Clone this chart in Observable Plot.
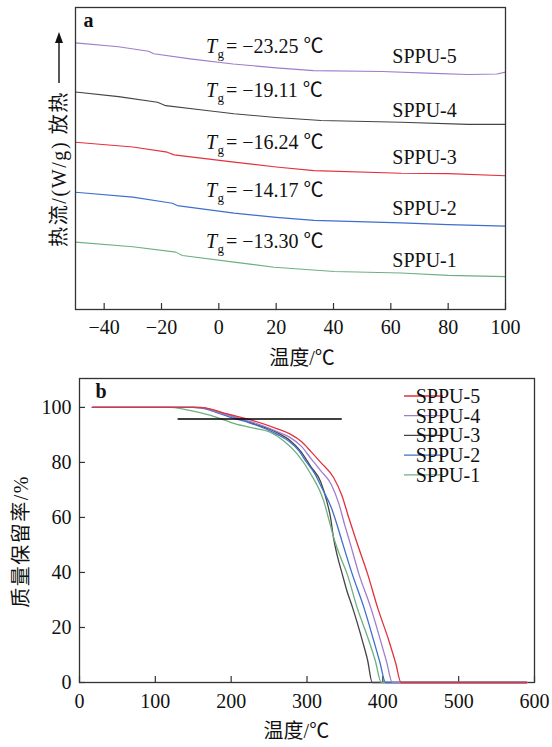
<!DOCTYPE html>
<html><head><meta charset="utf-8">
<script src="https://cdn.jsdelivr.net/npm/d3@7"></script>
<script src="https://cdn.jsdelivr.net/npm/@observablehq/plot@0.6"></script>
<style>
body{margin:0;background:#fff;}
#wrap{position:relative;width:552px;height:747px;}
#wrap svg{position:absolute;left:0;overflow:visible;}
</style></head><body><div id="wrap"></div>
<script>
// ---------- shared ----------
const series = ["SPPU-1", "SPPU-2", "SPPU-3", "SPPU-4", "SPPU-5"];
const dscColors = ["#6db07f", "#3d6fcc", "#e2323c", "#444444", "#a27ccb"];
const tgaColors = ["#6db07f", "#3d6fcc", "#444444", "#a27ccb", "#e2323c"];

// ---------- panel a: DSC (heat flow, arbitrary offset units) ----------
const dscXTicks = [-40, -20, 0, 20, 40, 60, 80, 100];
const dsc1 = [[-50,2.23],[-30,2.08],[-15,1.90],[-12.7,1.79],[5.3,1.57],[19.3,1.40],[40.3,1.26],[63.6,1.21],[79.9,1.13],[100,1.09]];
const dsc2 = [[-50,3.88],[-30,3.72],[-16.2,3.52],[-14.5,3.44],[5.3,3.19],[20,3.05],[33.2,2.95],[63.6,2.87],[80,2.81],[100,2.76]];
const dsc3 = [[-50,5.54],[-30,5.38],[-18,5.21],[-15.6,5.12],[5.3,4.88],[20,4.72],[33.2,4.60],[63.6,4.51],[80,4.50],[100,4.43]];
const dsc4 = [[-50,7.20],[-35,7.05],[-21.4,6.86],[-18.5,6.75],[-5,6.60],[5.3,6.48],[20,6.36],[35.7,6.26],[63.6,6.20],[87,6.13],[100,6.13]];
const dsc5 = [[-50,8.83],[-35,8.70],[-24.5,8.55],[-22.7,8.47],[-10,8.30],[5,8.13],[20,8.00],[33,7.91],[57,7.88],[75,7.82],[87,7.78],[97,7.80],[100,7.86]];
const tgValues = ["−13.30", "−14.17", "−16.24", "−19.11", "−23.25"];
// annotation anchors (data units)
const tgLabelX = -4.5;
const tgLabelY = [2.05, 3.74, 5.33, 7.05, 8.48];
const nameLabelX = 60.5;
const nameLabelY = [1.42, 3.13, 4.83, 6.39, 8.15];
const yLabelA = "热流/(W/g) 放热";
const xLabel = "温度/℃";

// ---------- panel b: TGA ----------
const tgaXTicks = [0, 100, 200, 300, 400, 500, 600];
const tgaYTicks = [0, 20, 40, 60, 80, 100];
const tga1 = [[17,100],[120,100],[137,99.4],[160,98],[181,96.4],[200,94.5],[225,92.7],[252,90.9],[269,87.9],[287,83.1],[305,75.8],[322,66],[330,58],[336,52],[345,45],[353,39.4],[366,27.3],[381.6,15.2],[390,8],[398,0],[590,0]];
const tga2 = [[17,100],[150,100],[160,99.8],[180,98.2],[203,96.1],[225,94.3],[260,90.3],[277,87.5],[290,84],[298,80.6],[310,76],[320,70.5],[332,63.6],[340,57],[346,51.5],[359.7,39.4],[375,27.3],[388,15.2],[396,7.5],[403.7,0],[590,0]];
const tga3 = [[17,100],[160,100],[175,99],[203,96.6],[225,94.5],[260,90.9],[278,87.9],[291,84.3],[305,78.5],[318,73],[326,66],[331,60],[335,52.5],[340,46],[346.5,39.4],[353,33],[360,27.3],[373,15.2],[380,8],[386,0],[590,0]];
const tga4 = [[17,100],[150,100],[164,99.8],[185,98],[205,96.5],[225,94.9],[260,91.3],[278,89],[292,86],[305,81.5],[318,77],[332,72],[342,65],[350,57],[356,51.5],[368.5,39.4],[384,27.3],[397,15.2],[405,7.5],[412.5,0],[590,0]];
const tga5 = [[17,100],[150,100],[165,99.8],[195,97.6],[221,95.8],[260,92.3],[278,90.3],[293,87.5],[305,84],[318,80],[335,74.5],[346,68],[355,60],[365,51.5],[380,39.4],[393,27.3],[408,15.2],[417,7],[424,0],[590,0]];
const refLossLevel = 95.8;
const refLossRange = [130, 346.5];
const legendOrder = ["SPPU-5", "SPPU-4", "SPPU-3", "SPPU-2", "SPPU-1"];
const tgaDrawOrder = ["SPPU-3", "SPPU-1", "SPPU-2", "SPPU-4", "SPPU-5"];
const yLabelB = "质量保留率/%";

// ---------- build tables ----------
const dscSets = [dsc1, dsc2, dsc3, dsc4, dsc5];
const tgaSets = [tga1, tga2, tga3, tga4, tga5];
const dscRows = dscSets.flatMap((arr, i) => arr.map(([t, v]) => ({s: series[i], t, v})));
const tgaRows = tgaDrawOrder.flatMap(name => tgaSets[series.indexOf(name)].map(([t, w]) => ({s: name, t, w})));
const tgRows = series.map((s, i) => ({s, tg: tgValues[i], y: tgLabelY[i]}));
const nameRows = series.map((s, i) => ({s, y: nameLabelY[i]}));

const fmt = d => d < 0 ? "−" + (-d) : String(d);
const FONT = '"Liberation Serif", "Times New Roman", "Noto Sans CJK SC", serif';
const INK = "#333";

// ---------- panel a ----------
const A = {w: 552, h: 370, mt: 7, mb: 61, ml: 75, mr: 47};
const aFrameH = A.h - A.mt - A.mb;
const plotA = Plot.plot({
  width: A.w, height: A.h,
  marginTop: A.mt, marginBottom: A.mb, marginLeft: A.ml, marginRight: A.mr,
  style: {fontFamily: FONT, fontSize: "20px", color: "#111", background: "transparent", overflow: "visible"},
  x: {domain: [-50, 100], axis: null},
  y: {domain: [0, 10], axis: null},
  color: {domain: series, range: dscColors},
  marks: [
    Plot.line(dscRows, {x: "t", y: "v", z: "s", stroke: "s", strokeWidth: 1.1}),
    Plot.ruleX(dscXTicks, {x: d => d, insetTop: aFrameH - 6, stroke: INK, strokeWidth: 1.2}),
    Plot.axisX({ticks: dscXTicks, tickSize: 0, tickPadding: 10, tickFormat: fmt, label: null, fill: "#111"}),
    Plot.frame({stroke: INK, strokeWidth: 1.3}),
    Plot.text(tgRows, {x: () => tgLabelX, y: "y", text: () => "T", fontStyle: "italic", textAnchor: "start", lineAnchor: "bottom", fill: "#111"}),
    Plot.text(tgRows, {x: () => tgLabelX, y: "y", text: () => "g", fontSize: 13, dx: 11.5, dy: 5, textAnchor: "start", lineAnchor: "bottom", fill: "#111"}),
    Plot.text(tgRows, {x: () => tgLabelX, y: "y", text: d => "= " + d.tg + " ℃", dx: 20, textAnchor: "start", lineAnchor: "bottom", fill: "#111"}),
    Plot.text(nameRows, {x: () => nameLabelX, y: "y", text: "s", textAnchor: "start", lineAnchor: "bottom", fill: "#111"}),
    Plot.text(["a"], {frameAnchor: "top-left", text: d => d, dx: 8, dy: 19.7, lineAnchor: "bottom", textAnchor: "start", fontWeight: "bold", fill: "#111"}),
    Plot.text([xLabel], {frameAnchor: "bottom", text: d => d, dx: 11.5, dy: 49.5, lineAnchor: "middle", textAnchor: "middle", fill: "#111"}),
    Plot.text([yLabelA], {frameAnchor: "left", text: d => d, rotate: -90, dx: -16, dy: 10.5, lineAnchor: "middle", textAnchor: "middle", fill: "#111"})
  ]
});

// ---------- panel b ----------
const B = {w: 552, h: 377, mt: 8, mb: 65, ml: 79, mr: 18};
const bFrameH = B.h - B.mt - B.mb;
const bFrameW = B.w - B.ml - B.mr;
const plotB = Plot.plot({
  width: B.w, height: B.h,
  marginTop: B.mt, marginBottom: B.mb, marginLeft: B.ml, marginRight: B.mr,
  style: {fontFamily: FONT, fontSize: "20px", color: "#111", background: "transparent", overflow: "visible"},
  x: {domain: [0, 600], axis: null},
  y: {domain: [0, 110.5], axis: null},
  color: {domain: series, range: tgaColors},
  marks: [
    Plot.ruleX(tgaXTicks, {x: d => d, insetTop: bFrameH - 6, stroke: INK, strokeWidth: 1.2}),
    Plot.ruleY(tgaYTicks, {y: d => d, insetRight: bFrameW - 6, stroke: INK, strokeWidth: 1.2}),
    Plot.frame({stroke: INK, strokeWidth: 1.3}),
    Plot.line(tgaRows, {x: "t", y: "w", z: "s", stroke: "s", strokeWidth: 1.3, curve: "monotone-x"}),
    Plot.ruleY([refLossLevel], {x1: refLossRange[0], x2: refLossRange[1], stroke: "#000", strokeWidth: 1.4}),
    Plot.axisX({ticks: tgaXTicks, tickSize: 0, tickPadding: 11, tickFormat: fmt, label: null, fill: "#111"}),
    Plot.axisY({ticks: tgaYTicks, tickSize: 0, tickPadding: 8, tickFormat: fmt, label: null, fill: "#111"}),
    Plot.text(["b"], {frameAnchor: "top-left", text: d => d, dx: 16, dy: 19.7, lineAnchor: "bottom", textAnchor: "start", fontWeight: "bold", fill: "#111"}),
    Plot.text([xLabel], {frameAnchor: "bottom", text: d => d, dx: -10.6, dy: 49.3, lineAnchor: "middle", textAnchor: "middle", fill: "#111"}),
    Plot.text([yLabelB], {frameAnchor: "left", text: d => d, rotate: -90, dx: -58, dy: 11, lineAnchor: "middle", textAnchor: "middle", fill: "#111"})
  ]
});

const wrap = document.getElementById("wrap");
plotA.style.top = "0px";
plotB.style.top = A.h + "px";
wrap.appendChild(plotA);
wrap.appendChild(plotB);

// slightly looser tracking on the rotated axis titles
d3.select(plotA).selectAll("text").filter(function() { return this.textContent === yLabelA; }).style("letter-spacing", "1.6px");
d3.select(plotB).selectAll("text").filter(function() { return this.textContent === yLabelB; }).style("letter-spacing", "1.5px");

// arrow next to the panel-a axis title (exotherm direction)
const svgA = d3.select(plotA);
const arrowX = 59;
svgA.append("line").attr("x1", arrowX).attr("x2", arrowX).attr("y1", 83).attr("y2", 40)
  .attr("stroke", "#111").attr("stroke-width", 1.4);
svgA.append("path").attr("d", `M${arrowX},32 L${arrowX - 4},43 L${arrowX + 4},43 Z`).attr("fill", "#111");

// legend for panel b
const svgB = d3.select(plotB);
const leg = svgB.append("g").attr("font-family", FONT).attr("font-size", 20).attr("fill", "#111");
legendOrder.forEach((name, i) => {
  const y = 26 + i * 19.7;
  const c = tgaColors[series.indexOf(name)];
  leg.append("line").attr("x1", 404).attr("x2", 443).attr("y1", y).attr("y2", y).attr("stroke", c).attr("stroke-width", 1.3);
  leg.append("text").attr("x", 448).attr("y", y).attr("dy", "0.35em").text(name);
});
</script>
</body></html>
